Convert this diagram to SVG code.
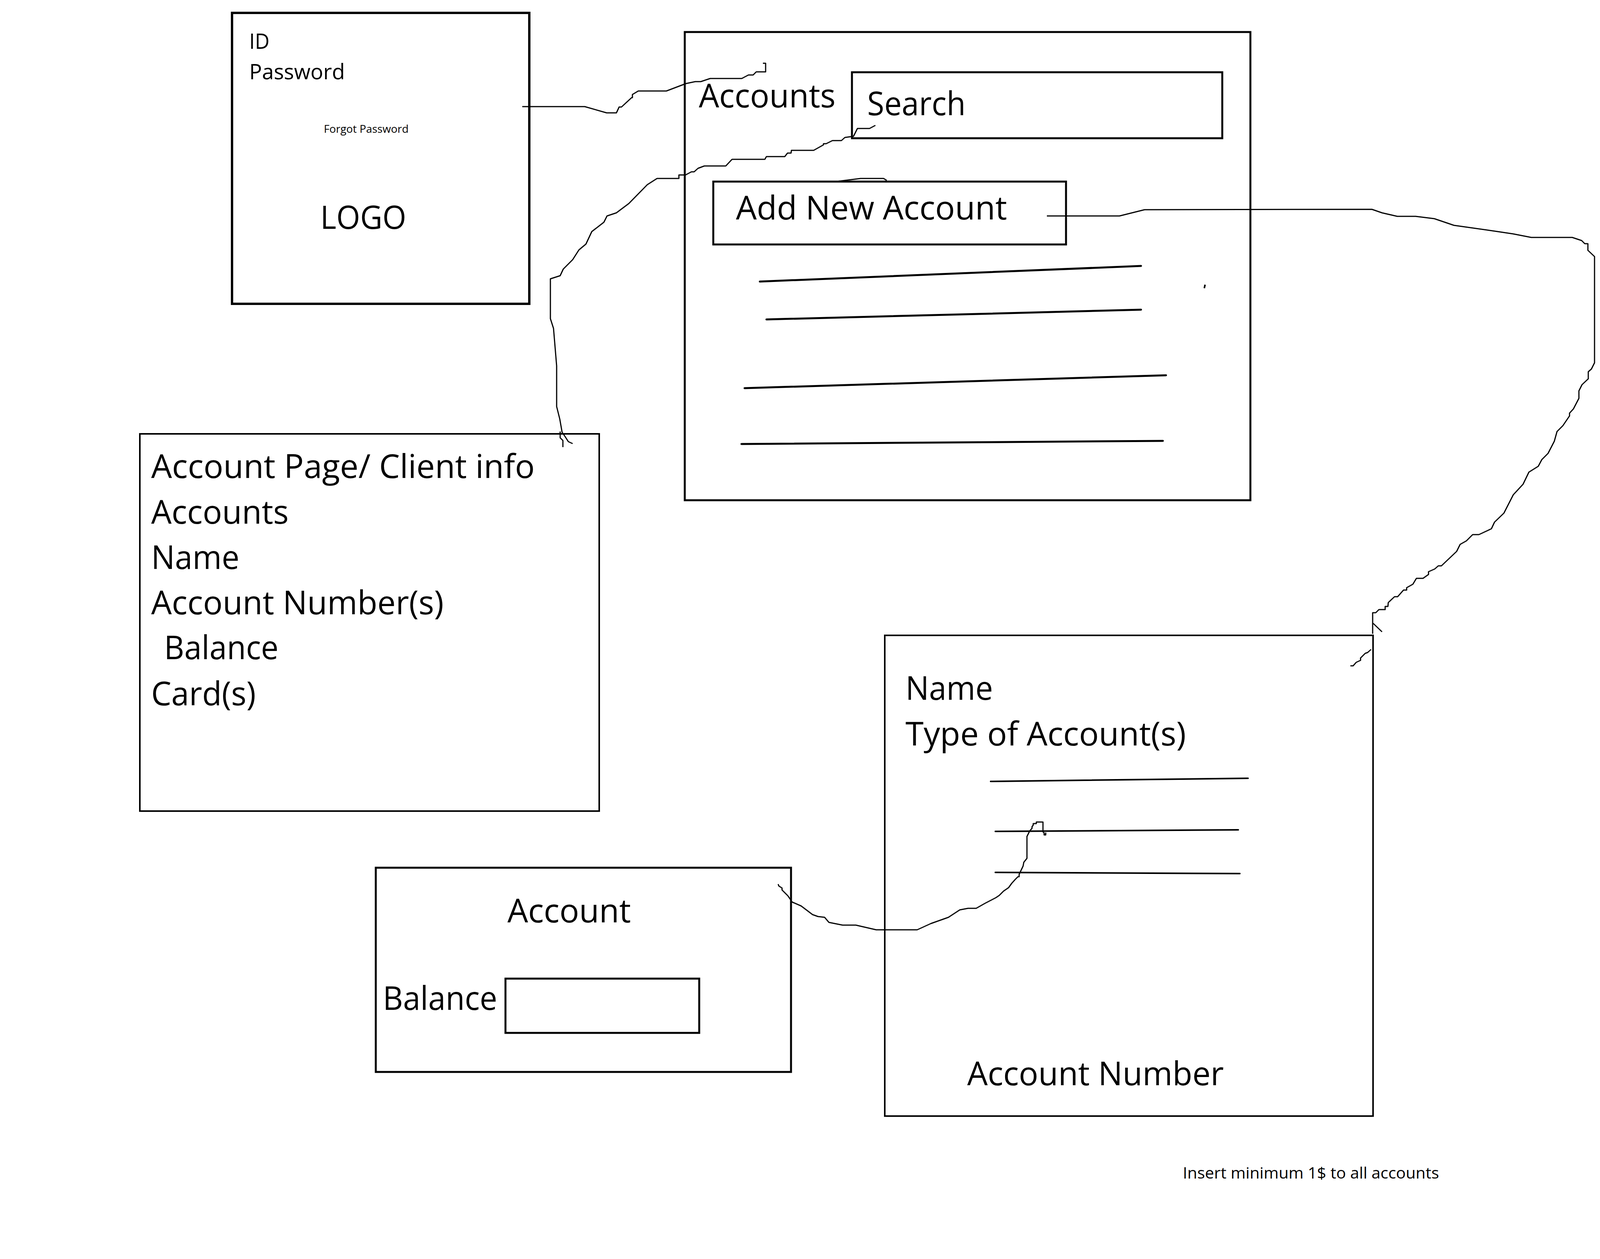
<svg xmlns="http://www.w3.org/2000/svg" width="4272" height="3224" viewBox="0 0 4272 3224">
<style>
.box{fill:none;stroke:#000;stroke-width:5}
.rule{fill:none;stroke:#000;stroke-width:5;stroke-linecap:round}
.conn{fill:none;stroke:#000;stroke-width:3;stroke-linejoin:round}
.t{font-family:"Open Sans","Noto Sans","Liberation Sans",sans-serif;fill:#000}
.big{font-size:84px}
.mid{font-size:54px}
.logo{font-size:82px}
.tiny{font-size:28px}
.note{font-size:41px}
</style>
<rect x="0" y="0" width="4272" height="3224" fill="#fff"/>

<g id="login">
<rect class="box" x="594" y="33" width="761" height="745" style="stroke-width:6"/>
<text class="t mid" x="638" y="125" textLength="52" lengthAdjust="spacingAndGlyphs">ID</text>
<text class="t mid" x="638" y="203" textLength="245" lengthAdjust="spacingAndGlyphs">Password</text>
<text class="t tiny" x="829" y="340" textLength="217" lengthAdjust="spacingAndGlyphs">Forgot Password</text>
<text class="t logo" x="820" y="586" textLength="220" lengthAdjust="spacingAndGlyphs">LOGO</text>
</g>

<g id="accounts">
<rect class="box" x="1753" y="82" width="1448" height="1199"/>
<text class="t big" x="1789" y="275" textLength="350" lengthAdjust="spacingAndGlyphs">Accounts</text>
<rect class="box" x="2181" y="185" width="948" height="169"/>
<text class="t big" x="2220" y="295" textLength="252" lengthAdjust="spacingAndGlyphs">Search</text>
<rect class="box" x="1826" y="465" width="903" height="161"/>
<text class="t big" x="1884" y="562" textLength="694" lengthAdjust="spacingAndGlyphs">Add New Account</text>
<line class="rule" x1="1945" y1="721" x2="2921" y2="681"/>
<line class="rule" x1="1962" y1="818" x2="2921" y2="793"/>
<line class="rule" x1="1906" y1="994" x2="2985" y2="961"/>
<line class="rule" x1="1898" y1="1137" x2="2977" y2="1129"/>
<line x1="3085" y1="729" x2="3083" y2="738" stroke="#000" stroke-width="4"/>
</g>

<g id="account-page">
<rect class="box" x="358" y="1111" width="1176" height="966" style="stroke-width:4"/>
<text class="t big" x="387" y="1224" textLength="982" lengthAdjust="spacingAndGlyphs">Account Page/ Client info</text>
<text class="t big" x="387" y="1341" textLength="352" lengthAdjust="spacingAndGlyphs">Accounts</text>
<text class="t big" x="387" y="1457" textLength="226" lengthAdjust="spacingAndGlyphs">Name</text>
<text class="t big" x="387" y="1573" textLength="749" lengthAdjust="spacingAndGlyphs">Account Number(s)</text>
<text class="t big" x="420" y="1688" textLength="293" lengthAdjust="spacingAndGlyphs">Balance</text>
<text class="t big" x="387" y="1806" textLength="268" lengthAdjust="spacingAndGlyphs">Card(s)</text>
</g>

<g id="account">
<rect class="box" x="962" y="2222" width="1063" height="523"/>
<text class="t big" x="1299" y="2362" textLength="316" lengthAdjust="spacingAndGlyphs">Account</text>
<text class="t big" x="980" y="2586" textLength="293" lengthAdjust="spacingAndGlyphs">Balance</text>
<rect class="box" x="1294" y="2506" width="496" height="139"/>
</g>

<g id="new-account">
<rect class="box" x="2265" y="1627" width="1250" height="1231" style="stroke-width:4"/>
<text class="t big" x="2318" y="1792" textLength="224" lengthAdjust="spacingAndGlyphs">Name</text>
<text class="t big" x="2318" y="1909" textLength="718" lengthAdjust="spacingAndGlyphs">Type of Account(s)</text>
<line class="rule" x1="2536" y1="2001" x2="3195" y2="1993" style="stroke-width:4"/>
<line class="rule" x1="2548" y1="2129" x2="3170" y2="2125" style="stroke-width:4"/>
<line class="rule" x1="2548" y1="2234" x2="3174" y2="2237" style="stroke-width:4"/>
<text class="t big" x="2476" y="2779" textLength="657" lengthAdjust="spacingAndGlyphs">Account Number</text>
</g>

<g id="note-text">
<text class="t note" x="3028" y="3018" textLength="656" lengthAdjust="spacingAndGlyphs">Insert minimum 1$ to all accounts</text>
</g>

<g id="connectors">
<polyline class="conn" points="1337,273 1497,273 1553,289 1578,289 1585,274 1591,274 1617,250 1619,250 1619,242 1634,233 1706,233 1756,214 1780,209 1794,209 1818,201 1899,201 1916,192 1928,192 1936,184 1960,184 1960,162 1953,162"/>
<polyline class="conn" points="2241,321 2226,329 2195,329 2185,349 2163,352 2154,360 2131,360 2115,368 2108,368 2108,371 2083,385 2026,385 2025,392 2016,392 2009,401 1962,401 1958,408 1874,408 1858,425 1803,425 1787,431 1777,440 1770,440 1755,448 1738,448 1738,457 1682,457 1657,473 1610,521 1578,545 1554,553 1546,569 1515,593 1500,625 1482,640 1466,665 1442,689 1434,706 1409,714 1409,816 1417,841 1425,937 1425,1041 1433,1073 1439,1107 1446,1117 1455,1131 1466,1136"/>
<polyline class="conn" points="1434,1105 1434,1121 1441,1128 1441,1145"/>
<polyline class="conn" points="2147,464 2203,457 2262,457 2270,462"/>
<polyline class="conn" points="2680,553 2866,553 2930,537 3512,536 3538,545 3577,554 3624,554 3672,560 3722,577 3834,593 3874,599 3920,608 4025,608 4049,616 4057,624 4065,624 4065,641 4082,657 4082,929 4074,945 4066,952 4066,970 4050,985 4042,1001 4042,1020 4028,1047 4018,1058 4018,1065 4001,1090 3986,1105 3979,1130 3963,1161 3947,1177 3938,1194 3914,1209 3899,1240 3874,1267 3850,1314 3826,1337 3818,1354 3786,1369 3770,1369 3754,1385 3738,1394 3729,1412 3690,1449 3682,1449 3673,1457 3657,1464 3657,1471 3643,1481 3626,1481 3617,1496 3601,1505 3601,1511 3593,1511 3578,1528 3570,1528 3554,1543 3553,1553 3546,1553 3546,1561 3530,1561 3522,1569 3514,1569 3514,1623"/>
<polyline class="conn" points="3515,1596 3538,1618"/>
<polyline class="conn" points="3510,1663 3501,1671 3495,1673 3483,1685 3483,1691 3472,1696 3464,1705 3457,1705"/>
<polyline class="conn" points="1992,2264 1994,2269 2002,2274 2002,2279 2017,2294 2028,2310 2051,2320 2080,2342 2094,2347 2111,2349 2122,2362 2157,2369 2191,2369 2243,2381 2348,2381 2383,2365 2428,2349 2457,2330 2478,2326 2499,2326 2522,2313 2549,2299 2558,2293 2569,2282 2582,2273 2590,2262 2599,2252 2606,2245 2609,2245 2609,2239 2619,2218 2621,2208 2629,2198 2629,2142 2636,2128 2642,2121 2642,2117 2645,2113 2645,2109 2653,2109 2653,2105 2670,2105 2670,2130 2673,2133 2673,2138 2677,2138 2677,2132"/>
</g>
</svg>
